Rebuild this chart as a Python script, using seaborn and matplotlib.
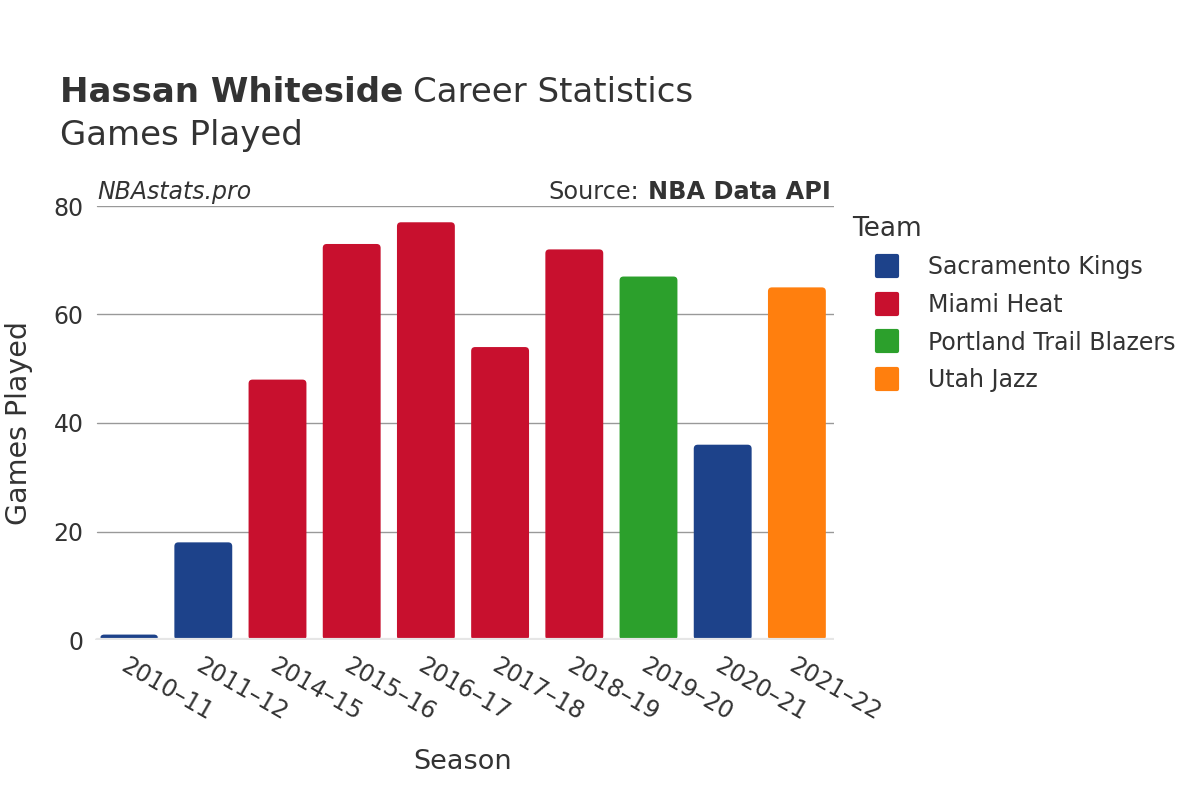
import matplotlib
matplotlib.use("Agg")
import matplotlib.pyplot as plt
import seaborn as sns
import pandas as pd
from matplotlib.patches import FancyBboxPatch
from matplotlib.lines import Line2D
from matplotlib.markers import MarkerStyle

seasons = ["2010–11", "2011–12", "2014–15", "2015–16", "2016–17",
           "2017–18", "2018–19", "2019–20", "2020–21", "2021–22"]
games = [1, 18, 48, 73, 77, 54, 72, 67, 36, 65]
teams = ["Sacramento Kings", "Sacramento Kings", "Miami Heat", "Miami Heat", "Miami Heat",
         "Miami Heat", "Miami Heat", "Portland Trail Blazers", "Sacramento Kings", "Utah Jazz"]
team_order = ["Sacramento Kings", "Miami Heat", "Portland Trail Blazers", "Utah Jazz"]
team_colors = {"Sacramento Kings": "#1d428a", "Miami Heat": "#c8102e",
               "Portland Trail Blazers": "#2ca02c", "Utah Jazz": "#ff7f0e"}
yticks = [0, 20, 40, 60, 80]

df = pd.DataFrame({"Season": seasons, "Games": games, "Team": teams})

sns.set_theme(style="white")
plt.rcParams["font.family"] = ["DejaVu Sans"]
TXT = "#333333"

fig = plt.figure(figsize=(12, 8), dpi=100)
AX_L, AX_W = 92, 742
ax = fig.add_axes([AX_L / 1200, 160 / 800, AX_W / 1200, 434 / 800])

sns.barplot(data=df, x="Season", y="Games", hue="Team", hue_order=team_order,
            palette=team_colors, dodge=False, width=0.78, ax=ax, legend=False,
            saturation=1)

ax.set_xlim(-0.5, len(seasons) - 0.5)
ax.set_ylim(0, 80)

# round the bar corners
px_per_x = AX_W / (len(seasons))
px_per_y = 434 / 80
aspect = px_per_x / px_per_y
for p in list(ax.patches):
    x, y = p.get_x(), p.get_y()
    w, h = p.get_width(), p.get_height()
    if h <= 0 or w <= 0:
        p.remove()
        continue
    fc = p.get_facecolor()
    p.remove()
    r = min(4 / px_per_x, w / 2)
    fb = FancyBboxPatch((x, y), w, h, boxstyle=f"round,pad=0,rounding_size={r}",
                        mutation_aspect=aspect, facecolor=fc, edgecolor="none",
                        zorder=2)
    ax.add_patch(fb)

for s in ax.spines.values():
    s.set_visible(False)
ax.set_yticks(yticks)
for t in yticks[1:]:
    ax.axhline(t, xmin=5 / AX_W, xmax=1.0, color="#999999", lw=1, zorder=1)
ax.axhline(0, xmin=5 / AX_W, color="#e6e6e6", lw=3, zorder=3)

ax.tick_params(axis="both", length=0, labelsize=17, colors=TXT)
ax.tick_params(axis="y", pad=6)
ax.tick_params(axis="x", pad=10)
ax.set_xticks(range(len(seasons)))
ax.set_xticklabels(seasons, rotation=-30, ha="left", va="top",
                   rotation_mode="anchor", fontsize=17, color=TXT)
ax.set_xlabel("Season", fontsize=19.5, color=TXT, labelpad=17)
ax.set_ylabel("Games Played", fontsize=20.5, color=TXT, labelpad=15)

# source annotations
fig.text(97 / 1200, 1 - 192 / 800, "NBAstats.pro", fontsize=17, style="italic",
         color=TXT, va="center", ha="left")
src = fig.text(831 / 1200, 1 - 192 / 800, "NBA Data API", fontsize=17.3,
               fontweight="bold", color=TXT, va="center", ha="right")

# title
t1 = fig.text(60 / 1200, 1 - 102 / 800, "Hassan Whiteside", fontsize=24.5,
              fontweight="bold", color=TXT, va="baseline", ha="left")
fig.canvas.draw()
r = fig.canvas.get_renderer()
bb = t1.get_window_extent(renderer=r)
fig.text(bb.x1 / 1200 + 10 / 1200, 1 - 102 / 800, "Career Statistics",
         fontsize=24.5, color=TXT, va="baseline", ha="left")
fig.text(60 / 1200, 1 - 145 / 800, "Games Played", fontsize=24.5, color=TXT,
         va="baseline", ha="left")
bb2 = src.get_window_extent(renderer=r)
fig.text(bb2.x0 / 1200 - 9 / 1200, 1 - 192 / 800, "Source:", fontsize=17.3,
         color=TXT, va="center", ha="right")

# legend
handles = [Line2D([0], [0], marker=MarkerStyle("s", joinstyle="round"),
                  linestyle="none", markersize=14, markeredgewidth=3,
                  markerfacecolor=team_colors[t], markeredgecolor=team_colors[t])
           for t in team_order]
leg = fig.legend(handles, team_order, title="Team", loc="upper left",
                 bbox_to_anchor=(836 / 1200, 1 - 199 / 800), frameon=False,
                 fontsize=17, title_fontsize=19, labelspacing=0.58,
                 handlelength=2.9, handletextpad=0.3, borderpad=0.2)
leg._legend_box.align = "left"
for txt in leg.get_texts():
    txt.set_color(TXT)
leg.get_title().set_color(TXT)

fig.savefig("out.png", dpi=100, facecolor="white")
